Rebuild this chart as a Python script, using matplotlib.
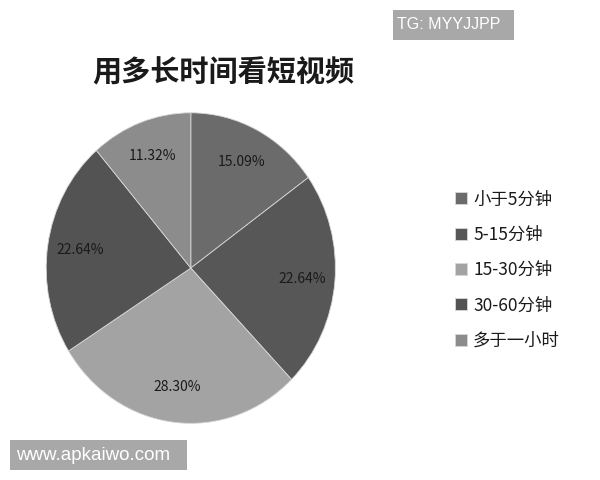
import matplotlib
matplotlib.use("Agg")
import matplotlib.pyplot as plt
from matplotlib.patches import Rectangle

plt.rcParams["font.family"] = ["Noto Sans CJK SC", "DejaVu Sans"]

# ── data ──────────────────────────────────────────────────────────────────────
categories = ["小于5分钟", "5-15分钟", "15-30分钟", "30-60分钟", "多于一小时"]
counts = [8, 12, 15, 12, 6]
colors = ["#6b6b6b", "#575757", "#a3a3a3", "#535353", "#8c8c8c"]
title = "用多长时间看短视频"

fig = plt.figure(figsize=(6, 4.8), dpi=100)
fig.patch.set_facecolor("white")

ax = fig.add_axes([0.077, 0.118, 0.482, 0.647])
wedges, texts, autotexts = ax.pie(
    counts, colors=colors, startangle=90, counterclock=False,
    autopct="%1.2f%%", pctdistance=0.77,
    wedgeprops=dict(edgecolor="#d8d8d8", linewidth=0.6),
    textprops=dict(fontsize=10, color="#1a1a1a", weight="medium"),
)
ax.set_aspect("auto")
ax.set_xlim(-1.0, 1.0)
ax.set_ylim(-1.0, 1.0)

fig.text(0.372, 0.85, title, ha="center", va="center", fontsize=21,
         weight="bold", color="#1a1a1a")

fig.legend(wedges, categories, loc="upper left", bbox_to_anchor=(0.732, 0.636),
           frameon=False, handlelength=0.7, handleheight=0.7,
           handletextpad=0.35, labelspacing=1.0, labelcolor="#1a1a1a",
           prop=dict(size=12.5, weight="medium"))

# watermark boxes
fig.add_artist(Rectangle((0.655, 0.917), 0.202, 0.062, transform=fig.transFigure,
                         facecolor="#a8a8a8", edgecolor="none"))
fig.text(0.662, 0.948, "TG: MYYJJPP", ha="left", va="center", fontsize=11.5,
         color="white", family="Liberation Sans")
fig.add_artist(Rectangle((0.017, 0.021), 0.295, 0.062, transform=fig.transFigure,
                         facecolor="#a8a8a8", edgecolor="none"))
fig.text(0.027, 0.052, "www.apkaiwo.com", ha="left", va="center", fontsize=13.5,
         color="white", family="Liberation Sans")

fig.savefig("out.png", dpi=100, facecolor="white")
